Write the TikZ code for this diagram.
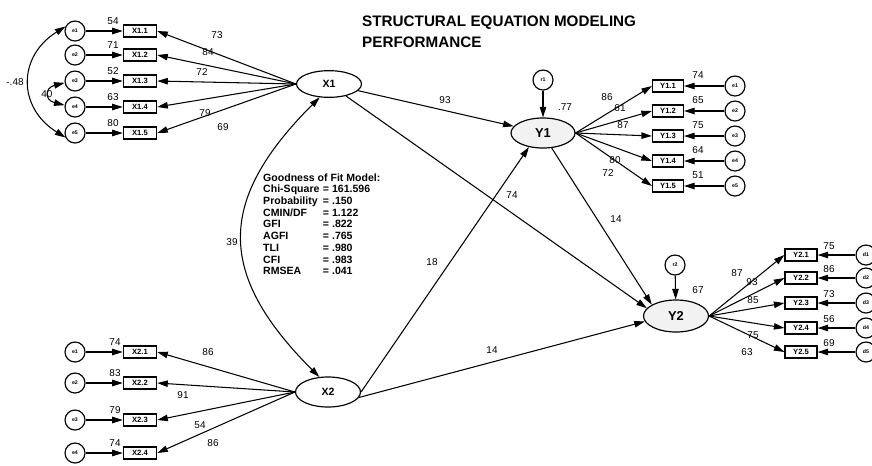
\documentclass[tikz,border=0pt]{standalone}
\usepackage{fontspec}
\setmainfont{Liberation Sans}
\usetikzlibrary{positioning, arrows.meta, shapes.geometric}

\begin{document}
\begin{tikzpicture}[x=0.03cm, y=-0.03cm,
        lat/.style={ellipse, draw, line width=1pt, minimum width=1.95cm, minimum height=0.8cm, inner sep=0pt, font=\bfseries\fontsize{9}{9}\selectfont},
        ind/.style={rectangle, draw, line width=1pt, minimum width=1.0cm, minimum height=0.36cm, inner sep=0pt, font=\bfseries\fontsize{6.5}{6.5}\selectfont},
        err/.style={circle, draw, line width=1pt, minimum size=0.6cm, inner sep=0pt, font=\bfseries\fontsize{4.5}{4.5}\selectfont},
        arrow/.style={-{Triangle[length=9pt,width=5.5pt]}, line width=0.9pt},
        cov/.style={{Triangle[length=9pt,width=5.5pt]}-{Triangle[length=9pt,width=5.5pt]}, line width=0.9pt},
        num/.style={inner sep=0pt, font=\fontsize{8.5}{8.5}\selectfont}
    ]
        \useasboundingbox (0,0) rectangle (872,465);
        \node[anchor=north west, inner sep=0pt, align=left, font=\bfseries\fontsize{13}{18}\selectfont] (TITLE) at (362,16) {STRUCTURAL EQUATION MODELING\\PERFORMANCE};

        % exogenous X1
        \node[lat] (X1) at (329,84) {X1};
        \foreach \i/\y/\r/\lx/\ly/\l in {1/31/54/217/35/73, 2/55/71/208/52/84, 3/81/52/202/72/72, 4/107/63/205/113/79, 5/133/80/223/127/69}{
            \node[ind] (X1\i) at (140,\y) {X1.\i};
            \node[err] (A\i) at (75,\y) {e\i};
            \draw[arrow] (A\i) -- (X1\i);
            \draw[arrow] (X1.west) -- (X1\i.east);
            \node[num] at (113,\y-10) {\r};
            \node[num] at (\lx,\ly) {\l};
        }
        \draw[cov] (A1.155) .. controls +(-48,30) and +(-48,-30) .. (A5.205);
        \node[num] at (15,82) {-.48};
        \draw[cov] (A3.190) .. controls +(-20,5) and +(-20,-5) .. (A4.170);
        \node[num] at (47,94) {40};

        % exogenous X2
        \node[lat, minimum height=0.9cm] (X2) at (328,392) {X2};
        \foreach \i/\y/\r/\lx/\ly/\l in {1/352/74/208/352/86, 2/383/83/183/395/91, 3/420/79/200/425/54, 4/453/74/213/443/86}{
            \node[ind] (X2\i) at (140,\y) {X2.\i};
            \node[err] (B\i) at (75,\y) {e\i};
            \draw[arrow] (B\i) -- (X2\i);
            \draw[arrow] (X2.west) -- (X2\i.east);
            \node[num] at (115,\y-10) {\r};
            \node[num] at (\lx,\ly) {\l};
        }

        % endogenous Y1
        \node[lat, fill=gray!10, minimum width=1.92cm, minimum height=0.9cm, font=\bfseries\fontsize{11}{11}\selectfont] (Y1) at (543,133) {Y1};
        \node[err] (R1) at (543,80) {r1};
        \draw[arrow] (R1) -- (Y1);
        \node[num] at (565,107) {.77};
        \foreach \i/\y/\r/\lx/\ly/\l in {1/86/74/607/97/86, 2/111/65/620/108/61, 3/136/75/623/125/87, 4/161/64/615/160/80, 5/186/51/608/173/72}{
            \node[ind, minimum width=0.93cm] (Y1\i) at (668,\y) {Y1.\i};
            \node[err] (C\i) at (735,\y) {e\i};
            \draw[arrow] (C\i) -- (Y1\i);
            \draw[arrow] (Y1.east) -- (Y1\i.west);
            \node[num] at (698,\y-11) {\r};
            \node[num] at (\lx,\ly) {\l};
        }

        % endogenous Y2
        \node[lat, fill=gray!10, minimum width=1.95cm, minimum height=0.96cm, font=\bfseries\fontsize{11}{11}\selectfont] (Y2) at (676,316) {Y2};
        \node[err] (R2) at (675,265) {r2};
        \draw[arrow] (R2) -- (Y2);
        \node[num] at (698,290) {67};
        \foreach \i/\y/\r/\lx/\ly/\l in {1/255/75/737/273/87, 2/278/86/752/282/93, 3/303/73/753/300/85, 4/328/56/753/335/75, 5/352/69/747/352/63}{
            \node[ind, minimum width=0.96cm] (Y2\i) at (801,\y) {Y2.\i};
            \node[err] (D\i) at (866,\y) {d\i};
            \draw[arrow] (D\i) -- (Y2\i);
            \draw[arrow] (Y2.east) -- (Y2\i.west);
            \node[num] at (829,\y-9) {\r};
            \node[num] at (\lx,\ly) {\l};
        }

        % structural paths
        \draw[arrow] (X1) -- (Y1);
        \node[num] at (445,100) {93};
        \draw[arrow] (X1) -- (Y2.165);
        \node[num] at (512,195) {74};
        \draw[arrow] (X2.east) -- (Y1.225);
        \node[num] at (432,262) {18};
        \draw[arrow] (X2.-10) -- (Y2.190);
        \node[num] at (492,350) {14};
        \draw[arrow] (Y1.300) -- (Y2.155);
        \node[num] at (616,219) {14};
        \draw[cov] (X1.235) .. controls +(-103,103) and +(-103,-103) .. (X2.120);
        \node[num] at (232,242) {39};

        % fit indices
        \node[anchor=base west, inner sep=0pt, font=\bfseries\fontsize{9}{10}\selectfont] (GOF) at (263,181) {\begin{tabular}[t]{@{}l@{\hspace{3pt}}l@{}}
            \multicolumn{2}{@{}l@{}}{Goodness of Fit Model:}\\
            Chi-Square & = 161.596\\
            Probability & = .150\\
            CMIN/DF & = 1.122\\
            GFI & = .822\\
            AGFI & = .765\\
            TLI & = .980\\
            CFI & = .983\\
            RMSEA & = .041
        \end{tabular}};
    \end{tikzpicture}
\end{document}
